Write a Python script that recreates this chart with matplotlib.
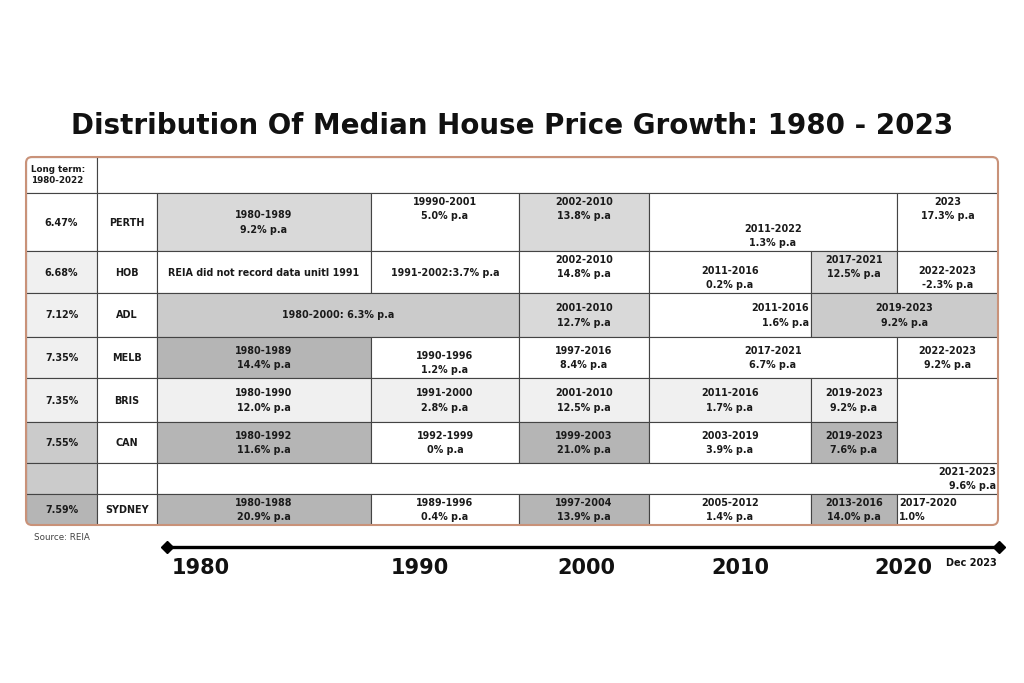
"""Recreate the REIA median house price growth table as a matplotlib figure."""

import matplotlib

matplotlib.use("Agg")
import matplotlib.pyplot as plt  # noqa: E402
from matplotlib.patches import FancyBboxPatch, Rectangle  # noqa: E402

TITLE = "Distribution Of Median House Price Growth: 1980 - 2023"

# --- data -------------------------------------------------------------------
cities = ["PERTH", "HOB", "ADL", "MELB", "BRIS", "CAN", "", "SYDNEY"]
long_term = ["6.47%", "6.68%", "7.12%", "7.35%", "7.35%", "7.55%", "", "7.59%"]

perth_periods = ["1980-1989", "19990-2001", "2002-2010", "2011-2022", "2023"]
perth_growth = ["9.2% p.a", "5.0% p.a", "13.8% p.a", "1.3% p.a", "17.3% p.a"]

hob_periods = ["REIA did not record data unitl 1991", "1991-2002:3.7% p.a",
               "2002-2010", "2011-2016", "2017-2021", "2022-2023"]
hob_growth = ["", "", "14.8% p.a", "0.2% p.a", "12.5% p.a", "-2.3% p.a"]

adl_periods = ["1980-2000: 6.3% p.a", "2001-2010", "2011-2016", "2019-2023"]
adl_growth = ["", "12.7% p.a", "1.6% p.a", "9.2% p.a"]

melb_periods = ["1980-1989", "1990-1996", "1997-2016", "2017-2021", "2022-2023"]
melb_growth = ["14.4% p.a", "1.2% p.a", "8.4% p.a", "6.7% p.a", "9.2% p.a"]

bris_periods = ["1980-1990", "1991-2000", "2001-2010", "2011-2016", "2019-2023"]
bris_growth = ["12.0% p.a", "2.8% p.a", "12.5% p.a", "1.7% p.a", "9.2% p.a"]

can_periods = ["1980-1992", "1992-1999", "1999-2003", "2003-2019", "2019-2023"]
can_growth = ["11.6% p.a", "0% p.a", "21.0% p.a", "3.9% p.a", "7.6% p.a"]

gap_periods = ["2021-2023"]
gap_growth = ["9.6% p.a"]

syd_periods = ["1980-1988", "1989-1996", "1997-2004", "2005-2012", "2013-2016", "2017-2020"]
syd_growth = ["20.9% p.a", "0.4% p.a", "13.9% p.a", "1.4% p.a", "14.0% p.a", "1.0%"]

timeline_years = ["1980", "1990", "2000", "2010", "2020"]
timeline_end = "Dec 2023"
source = "Source: REIA"

# --- layout (pixel space of a 1024x683 canvas) --------------------------------
COL_EDGES = [26, 97, 157, 371, 519, 649, 811, 897, 998]  # long-term, city, 6 period columns
ROW_EDGES = [157, 193, 251, 293, 337, 378, 422, 463, 494, 525]  # header + 8 rows
SHADES = {"w": "#ffffff", "vl": "#f0f0f0", "l": "#d9d9d9", "m": "#cbcbcb", "d": "#b5b5b5"}
GRID = "#444444"
INK = "#1a1a1a"
long_term_shade = ["w", "vl", "vl", "vl", "vl", "m", "m", "d"]

# per row: (first period col, last period col exclusive, shade, vertical pos, horizontal pos)
row_layout = [
    [(0, 1, "l", "c", "c"), (1, 2, "w", "t", "c"), (2, 3, "l", "t", "c"),
     (3, 5, "w", "b", "c"), (5, 6, "w", "t", "c")],
    [(0, 1, "w", "c", "c"), (1, 2, "w", "c", "c"), (2, 3, "w", "t", "c"),
     (3, 4, "w", "b", "c"), (4, 5, "l", "t", "c"), (5, 6, "w", "b", "c")],
    [(0, 2, "m", "c", "c"), (2, 3, "l", "c", "c"), (3, 4, "w", "c", "r"), (4, 6, "m", "c", "c")],
    [(0, 1, "d", "c", "c"), (1, 2, "w", "b", "c"), (2, 3, "w", "c", "c"),
     (3, 5, "w", "c", "c"), (5, 6, "w", "c", "c")],
    [(0, 1, "vl", "c", "c"), (1, 2, "vl", "c", "c"), (2, 3, "vl", "c", "c"),
     (3, 4, "vl", "c", "c"), (4, 5, "vl", "c", "c")],
    [(0, 1, "d", "c", "c"), (1, 2, "w", "c", "c"), (2, 3, "d", "c", "c"),
     (3, 4, "w", "c", "c"), (4, 5, "d", "c", "c")],
    [(0, 6, "w", "c", "r")],
    [(0, 1, "d", "c", "c"), (1, 2, "w", "c", "c"), (2, 3, "d", "c", "c"),
     (3, 4, "w", "c", "c"), (4, 5, "d", "c", "c"), (5, 6, "w", "c", "l")],
]
row_texts = [
    (perth_periods, perth_growth), (hob_periods, hob_growth), (adl_periods, adl_growth),
    (melb_periods, melb_growth), (bris_periods, bris_growth), (can_periods, can_growth),
    (gap_periods, gap_growth), (syd_periods, syd_growth),
]
year_x = [201, 420, 586, 740, 903]
TIMELINE = (167, 999, 547)

CELL_FONT = dict(family="DejaVu Sans", fontweight="bold", fontsize=6.9, color=INK)


def cell(ax, x0, x1, y0, y1, shade, clip):
    patch = Rectangle((x0, y0), x1 - x0, y1 - y0, facecolor=SHADES[shade],
                      edgecolor=GRID, linewidth=0.8, zorder=1)
    ax.add_patch(patch)
    patch.set_clip_path(clip)


def cell_text(ax, text, x0, x1, y0, y1, valign, halign):
    y = {"t": y0 + 16, "c": (y0 + y1) / 2 + 0.5, "b": y1 - 15}[valign]
    x, ha = {"c": ((x0 + x1) / 2, "center"), "r": (x1 - 2, "right"), "l": (x0 + 2, "left")}[halign]
    ax.text(x, y, text, ha=ha, va="center", multialignment=ha, linespacing=1.55,
            zorder=3, **CELL_FONT)


fig = plt.figure(figsize=(10.24, 6.83), dpi=100)
ax = fig.add_axes([0, 0, 1, 1])
ax.set_xlim(0, 1024)
ax.set_ylim(683, 0)
ax.axis("off")

ax.text(512, 126, TITLE, ha="center", va="center", fontsize=20, fontweight="bold",
        family="DejaVu Sans", color="#111111")

# rounded outer frame; cells are clipped to it
frame = FancyBboxPatch((COL_EDGES[0], ROW_EDGES[0]), COL_EDGES[-1] - COL_EDGES[0],
                       ROW_EDGES[-1] - ROW_EDGES[0],
                       boxstyle="round,pad=0,rounding_size=6", facecolor="none",
                       edgecolor="#c99279", linewidth=1.5, zorder=4)
ax.add_patch(frame)

# header row
cell(ax, COL_EDGES[0], COL_EDGES[1], ROW_EDGES[0], ROW_EDGES[1], "w", frame)
cell(ax, COL_EDGES[1], COL_EDGES[-1], ROW_EDGES[0], ROW_EDGES[1], "w", frame)
ax.text(31, 175, "Long term:\n1980-2022", ha="left", va="center", linespacing=1.3,
        zorder=3, **{**CELL_FONT, "fontsize": 6.3})

period_edges = COL_EDGES[2:]
for r, (layout, (periods, growth)) in enumerate(zip(row_layout, row_texts)):
    y0, y1 = ROW_EDGES[r + 1], ROW_EDGES[r + 2]
    cell(ax, COL_EDGES[0], COL_EDGES[1], y0, y1, long_term_shade[r], frame)
    cell(ax, COL_EDGES[1], COL_EDGES[2], y0, y1, "w", frame)
    if long_term[r]:
        cell_text(ax, long_term[r], COL_EDGES[0], COL_EDGES[1], y0, y1, "c", "c")
    if cities[r]:
        cell_text(ax, cities[r], COL_EDGES[1], COL_EDGES[2], y0, y1, "c", "c")
    for (c0, c1, shade, va, ha), period, g in zip(layout, periods, growth):
        x0, x1 = period_edges[c0], period_edges[c1]
        cell(ax, x0, x1, y0, y1, shade, frame)
        cell_text(ax, period + ("\n" + g if g else ""), x0, x1, y0, y1, va, ha)

# empty cell shared by the BRIS and CAN rows on the right
cell(ax, period_edges[5], period_edges[6], ROW_EDGES[5], ROW_EDGES[7], "w", frame)

ax.text(34, 537, source, ha="left", va="center", fontsize=6.3, color="#444444",
        family="DejaVu Sans")

# timeline
x_start, x_end, y_line = TIMELINE
ax.plot([x_start, x_end], [y_line, y_line], color="black", linewidth=2.4,
        marker="D", markersize=6, markevery=[0, 1], zorder=2)
for label, x in zip(timeline_years, year_x):
    ax.text(x, 568, label, ha="center", va="center", fontsize=15, fontweight="bold",
            family=["Liberation Sans Narrow", "DejaVu Sans"], color="#111111")
ax.text(971, 563, timeline_end, ha="center", va="center", fontsize=7, fontweight="bold",
        family=["Liberation Sans Narrow", "DejaVu Sans"], color="#111111")

fig.savefig("out.png", dpi=100)
